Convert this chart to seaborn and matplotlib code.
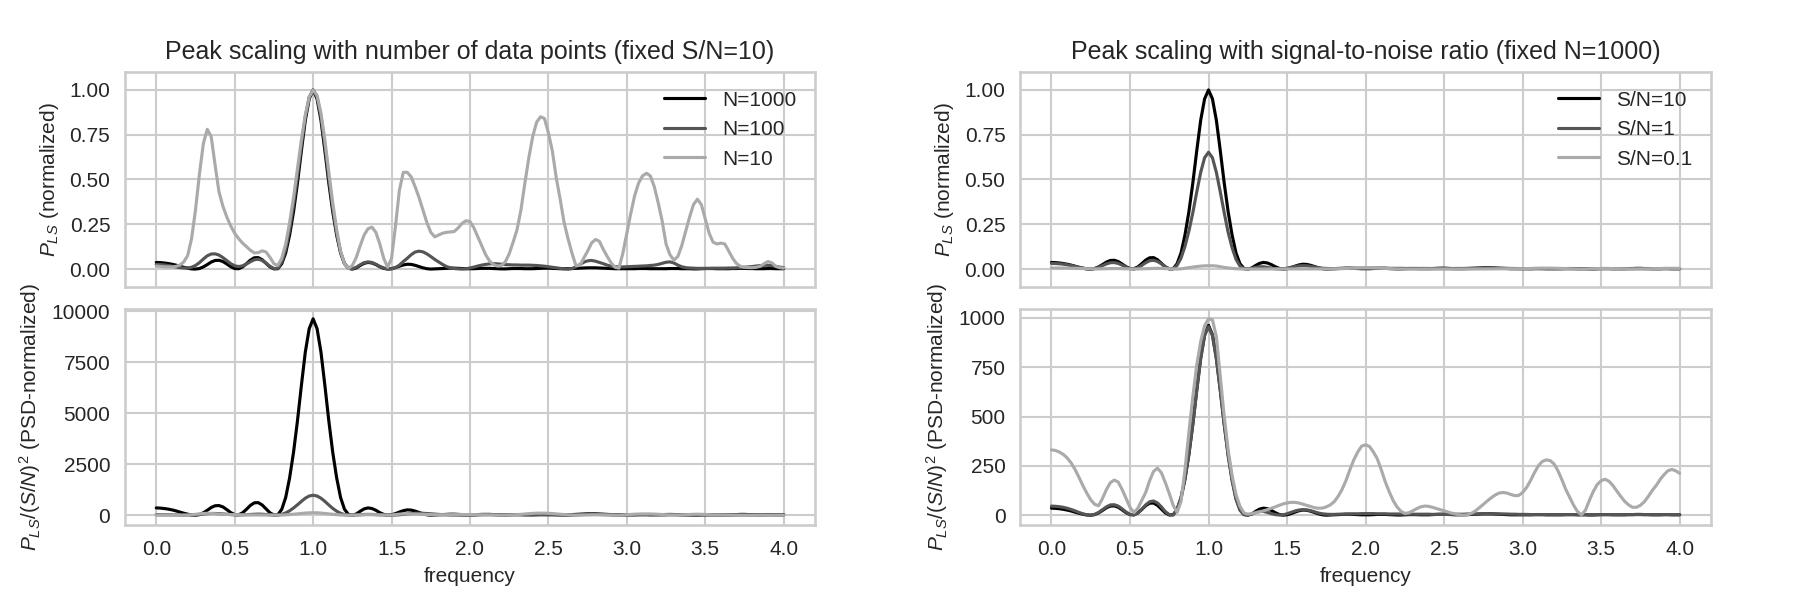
import numpy as np
import pandas as pd
import matplotlib
matplotlib.use("Agg")
import matplotlib.pyplot as plt
import seaborn as sns

# ---------------- data ----------------
# frequency grid, step 0.025 from 0 to 4
freq = np.round(np.arange(161) * 0.025, 3)

# Left column: fixed S/N=10, normalized periodograms (peak = 1)
p_n1000 = [
    0.037, 0.036, 0.034, 0.031, 0.027, 0.022, 0.016, 0.010,
    0.005, 0.001, 0.000, 0.003, 0.012, 0.025, 0.039, 0.048,
    0.049, 0.042, 0.028, 0.013, 0.003, 0.002, 0.012, 0.030,
    0.050, 0.063, 0.064, 0.052, 0.032, 0.012, 0.001, 0.002,
    0.030, 0.090, 0.190, 0.320, 0.480, 0.660, 0.830, 0.950,
    1.000, 0.950, 0.830, 0.660, 0.480, 0.320, 0.190, 0.090,
    0.030, 0.004, 0.000, 0.006, 0.020, 0.032, 0.037, 0.034,
    0.025, 0.013, 0.004, 0.000, 0.002, 0.008, 0.016, 0.023,
    0.027, 0.026, 0.021, 0.014, 0.007, 0.002, 0.000, 0.001,
    0.002, 0.003, 0.004, 0.005, 0.005, 0.004, 0.003, 0.002,
    0.002, 0.002, 0.003, 0.004, 0.004, 0.004, 0.003, 0.002,
    0.001, 0.001, 0.002, 0.003, 0.003, 0.003, 0.002, 0.002,
    0.002, 0.003, 0.004, 0.005, 0.005, 0.004, 0.003, 0.002,
    0.002, 0.002, 0.003, 0.004, 0.005, 0.006, 0.007, 0.007,
    0.007, 0.006, 0.005, 0.004, 0.003, 0.002, 0.002, 0.002,
    0.002, 0.002, 0.002, 0.003, 0.003, 0.003, 0.002, 0.002,
    0.002, 0.002, 0.002, 0.003, 0.003, 0.003, 0.002, 0.002,
    0.002, 0.001, 0.001, 0.002, 0.003, 0.003, 0.003, 0.002,
    0.002, 0.002, 0.002, 0.003, 0.003, 0.004, 0.004, 0.003,
    0.003, 0.002, 0.002, 0.002, 0.003, 0.003, 0.002, 0.002,
    0.002,
]

p_n100 = [
    0.026, 0.025, 0.023, 0.020, 0.016, 0.012, 0.008, 0.006,
    0.006, 0.010, 0.020, 0.036, 0.056, 0.074, 0.084, 0.085,
    0.078, 0.064, 0.047, 0.030, 0.018, 0.014, 0.018, 0.028,
    0.041, 0.052, 0.055, 0.048, 0.033, 0.015, 0.003, 0.005,
    0.040, 0.110, 0.220, 0.360, 0.520, 0.690, 0.850, 0.960,
    1.000, 0.960, 0.850, 0.690, 0.510, 0.340, 0.200, 0.095,
    0.030, 0.004, 0.002, 0.010, 0.024, 0.036, 0.040, 0.037,
    0.027, 0.015, 0.006, 0.001, 0.001, 0.008, 0.022, 0.042,
    0.060, 0.080, 0.095, 0.100, 0.096, 0.085, 0.070, 0.054,
    0.040, 0.026, 0.014, 0.007, 0.003, 0.001, 0.000, 0.002,
    0.006, 0.011, 0.017, 0.022, 0.026, 0.029, 0.030, 0.029,
    0.027, 0.025, 0.024, 0.023, 0.023, 0.022, 0.022, 0.022,
    0.021, 0.020, 0.018, 0.016, 0.013, 0.010, 0.007, 0.004,
    0.001, 0.000, 0.003, 0.012, 0.025, 0.038, 0.046, 0.048,
    0.044, 0.037, 0.030, 0.022, 0.016, 0.013, 0.012, 0.012,
    0.013, 0.014, 0.015, 0.016, 0.017, 0.018, 0.020, 0.022,
    0.026, 0.032, 0.038, 0.040, 0.034, 0.022, 0.013, 0.008,
    0.006, 0.005, 0.004, 0.004, 0.004, 0.004, 0.005, 0.005,
    0.005, 0.005, 0.006, 0.006, 0.007, 0.008, 0.010, 0.012,
    0.014, 0.017, 0.019, 0.021, 0.021, 0.019, 0.015, 0.011,
    0.008,
]

p_n10 = [
    0.017, 0.015, 0.013, 0.012, 0.012, 0.015, 0.022, 0.040,
    0.075, 0.170, 0.330, 0.530, 0.700, 0.780, 0.740, 0.580,
    0.430, 0.350, 0.290, 0.240, 0.200, 0.170, 0.145, 0.125,
    0.105, 0.090, 0.092, 0.102, 0.095, 0.065, 0.030, 0.020,
    0.060, 0.140, 0.260, 0.400, 0.560, 0.720, 0.860, 0.960,
    1.000, 0.970, 0.870, 0.720, 0.540, 0.370, 0.220, 0.100,
    0.030, 0.003, 0.020, 0.065, 0.130, 0.190, 0.225, 0.234,
    0.205, 0.140, 0.060, 0.010, 0.060, 0.240, 0.440, 0.540,
    0.540, 0.515, 0.460, 0.400, 0.330, 0.260, 0.205, 0.180,
    0.190, 0.200, 0.205, 0.207, 0.210, 0.230, 0.255, 0.270,
    0.265, 0.230, 0.180, 0.130, 0.080, 0.045, 0.025, 0.017,
    0.020, 0.040, 0.085, 0.150, 0.220, 0.330, 0.480, 0.620,
    0.740, 0.820, 0.850, 0.840, 0.760, 0.660, 0.510, 0.390,
    0.260, 0.170, 0.090, 0.020, 0.020, 0.060, 0.100, 0.145,
    0.165, 0.155, 0.110, 0.070, 0.035, 0.010, 0.005, 0.090,
    0.200, 0.310, 0.410, 0.480, 0.520, 0.535, 0.520, 0.460,
    0.370, 0.270, 0.140, 0.080, 0.050, 0.070, 0.130, 0.210,
    0.290, 0.360, 0.390, 0.360, 0.280, 0.200, 0.150, 0.140,
    0.145, 0.140, 0.100, 0.060, 0.030, 0.015, 0.010, 0.008,
    0.008, 0.010, 0.015, 0.030, 0.042, 0.035, 0.015, 0.008,
    0.005,
]

labels_left = ["N=1000", "N=100", "N=10"]
psd_peak_left = [9640, 980, 120]          # peak of P_LS/(S/N)^2 per curve

# Right column: fixed N=1000, PSD-normalized P_LS/(S/N)^2
psd_sn1 = [
    46, 45, 43, 40, 35, 29, 22, 14,
    7, 2, 0, 4, 14, 28, 42, 52,
    53, 46, 32, 16, 4, 1, 10, 30,
    52, 68, 72, 62, 42, 18, 3, 2,
    30, 90, 185, 310, 460, 630, 790, 910,
    955, 910, 790, 630, 460, 300, 175, 80,
    25, 3, 1, 6, 14, 19, 19, 14,
    8, 3, 1, 2, 7, 14, 21, 26,
    28, 27, 23, 17, 11, 7, 5, 4,
    4, 5, 5, 6, 6, 7, 7, 8,
    8, 8, 8, 7, 7, 7, 6, 6,
    6, 6, 5, 5, 5, 5, 5, 5,
    5, 4, 4, 4, 4, 4, 4, 5,
    5, 5, 6, 6, 6, 7, 7, 7,
    7, 7, 6, 6, 6, 5, 5, 4,
    4, 4, 3, 3, 3, 3, 3, 3,
    3, 3, 3, 3, 3, 3, 3, 3,
    3, 3, 3, 3, 3, 3, 3, 3,
    3, 3, 3, 3, 3, 3, 3, 3,
    3, 3, 3, 3, 3, 3, 3, 3,
    3,
]

psd_sn01 = [
    331, 328, 320, 308, 290, 265, 232, 192,
    150, 112, 78, 55, 48, 85, 130, 165,
    178, 168, 130, 85, 40, 13, 35, 75,
    115, 175, 222, 238, 215, 165, 110, 50,
    14, 70, 230, 420, 600, 760, 880, 960,
    995, 990, 905, 700, 500, 330, 200, 105,
    45, 12, 5, 8, 12, 17, 22, 28,
    35, 42, 50, 57, 62, 65, 65, 62,
    56, 50, 44, 38, 35, 36, 42, 52,
    68, 95, 130, 175, 230, 280, 320, 350,
    357, 348, 320, 285, 230, 170, 120, 75,
    42, 20, 9, 12, 22, 33, 42, 46,
    45, 40, 34, 28, 22, 16, 10, 5,
    2, 0, 2, 10, 22, 38, 55, 72,
    88, 102, 112, 115, 112, 105, 99, 100,
    115, 140, 175, 215, 250, 272, 280, 277,
    260, 225, 180, 130, 90, 50, 18, 2,
    25, 75, 120, 155, 175, 182, 172, 150,
    122, 95, 70, 52, 40, 40, 50, 68,
    95, 125, 150, 180, 205, 225, 232, 225,
    212,
]

labels_right = ["S/N=10", "S/N=1", "S/N=0.1"]
psd_peak_sn10 = 962                         # peak of S/N=10 curve (PSD-normalized)
norm_peak_right = [1.0, 0.652, 0.0186]      # peak of each curve in standard normalization

colors = ["#000000", "#555555", "#aaaaaa"]

# ---------------- build tables ----------------
def long_df(curves, labels):
    rows = []
    for c, lab in zip(curves, labels):
        rows.append(pd.DataFrame({"frequency": freq, "power": np.asarray(c, float), "series": lab}))
    return pd.concat(rows, ignore_index=True)

left_norm = [p_n1000, p_n100, p_n10]
left_psd = [np.asarray(c) * pk for c, pk in zip(left_norm, psd_peak_left)]

right_psd = [np.asarray(p_n1000) * psd_peak_sn10, np.asarray(psd_sn1, float), np.asarray(psd_sn01, float)]
right_norm = [c * pk / np.max(c) for c, pk in zip(right_psd, norm_peak_right)]

df_tl = long_df(left_norm, labels_left)
df_bl = long_df(left_psd, labels_left)
df_tr = long_df(right_norm, labels_right)
df_br = long_df(right_psd, labels_right)

# ---------------- style ----------------
sns.set_style("whitegrid")
plt.rcParams["font.family"] = ["Liberation Sans", "DejaVu Sans"]
plt.rcParams["mathtext.fontset"] = "custom"
plt.rcParams["mathtext.rm"] = "Liberation Sans"
plt.rcParams["mathtext.it"] = "Liberation Sans:italic"
plt.rcParams["mathtext.bf"] = "Liberation Sans:bold"
plt.rcParams["axes.edgecolor"] = "#cccccc"
plt.rcParams["grid.color"] = "#cccccc"
plt.rcParams["axes.linewidth"] = 1.25
plt.rcParams["grid.linewidth"] = 1.0

fig = plt.figure(figsize=(12, 4), dpi=150)
ax_tl = fig.add_axes([0.0694, 0.5217, 0.3834, 0.3583])
ax_bl = fig.add_axes([0.0694, 0.125, 0.3834, 0.360], sharex=ax_tl)
ax_tr = fig.add_axes([0.5667, 0.5217, 0.3839, 0.3583])
ax_br = fig.add_axes([0.5667, 0.125, 0.3839, 0.360], sharex=ax_tr)

LW = 1.5

def draw(ax, df, labels, legend):
    sns.lineplot(data=df, x="frequency", y="power", hue="series", hue_order=labels,
                 palette=dict(zip(labels, colors)), linewidth=LW, ax=ax,
                 legend=legend, estimator=None, sort=False)

draw(ax_tl, df_tl, labels_left, True)
draw(ax_bl, df_bl, labels_left, False)
draw(ax_tr, df_tr, labels_right, True)
draw(ax_br, df_br, labels_right, False)

tick_fs = 10
lab_fs = 10
for ax in (ax_tl, ax_tr):
    ax.set_ylim(-0.1, 1.1)
    ax.set_yticks([0.0, 0.25, 0.5, 0.75, 1.0])
    ax.set_ylabel(r"$P_{LS}$ (normalized)", fontsize=lab_fs)
    ax.set_xlabel("")
    ax.tick_params(labelbottom=False)
    leg = ax.legend(loc="upper right", frameon=False, fontsize=10)
    for ln in leg.get_lines():
        ln.set_linewidth(LW)

ax_bl.set_yticks([0, 2500, 5000, 7500, 10000])
ax_br.set_yticks([0, 250, 500, 750, 1000])
for ax in (ax_bl, ax_br):
    ax.set_ylabel(r"$P_{LS}/(S/N)^2$ (PSD-normalized)", fontsize=lab_fs)
    ax.set_xlabel("frequency", fontsize=lab_fs)
    ax.set_xticks([0.0, 0.5, 1.0, 1.5, 2.0, 2.5, 3.0, 3.5, 4.0])

for ax in (ax_tl, ax_bl, ax_tr, ax_br):
    ax.set_xlim(-0.2, 4.2)
    ax.tick_params(labelsize=tick_fs, colors="#262626")

ax_tl.set_title("Peak scaling with number of data points (fixed S/N=10)", fontsize=12, color="#262626")
ax_tr.set_title("Peak scaling with signal-to-noise ratio (fixed N=1000)", fontsize=12, color="#262626")

fig.savefig("out.png", dpi=150)
